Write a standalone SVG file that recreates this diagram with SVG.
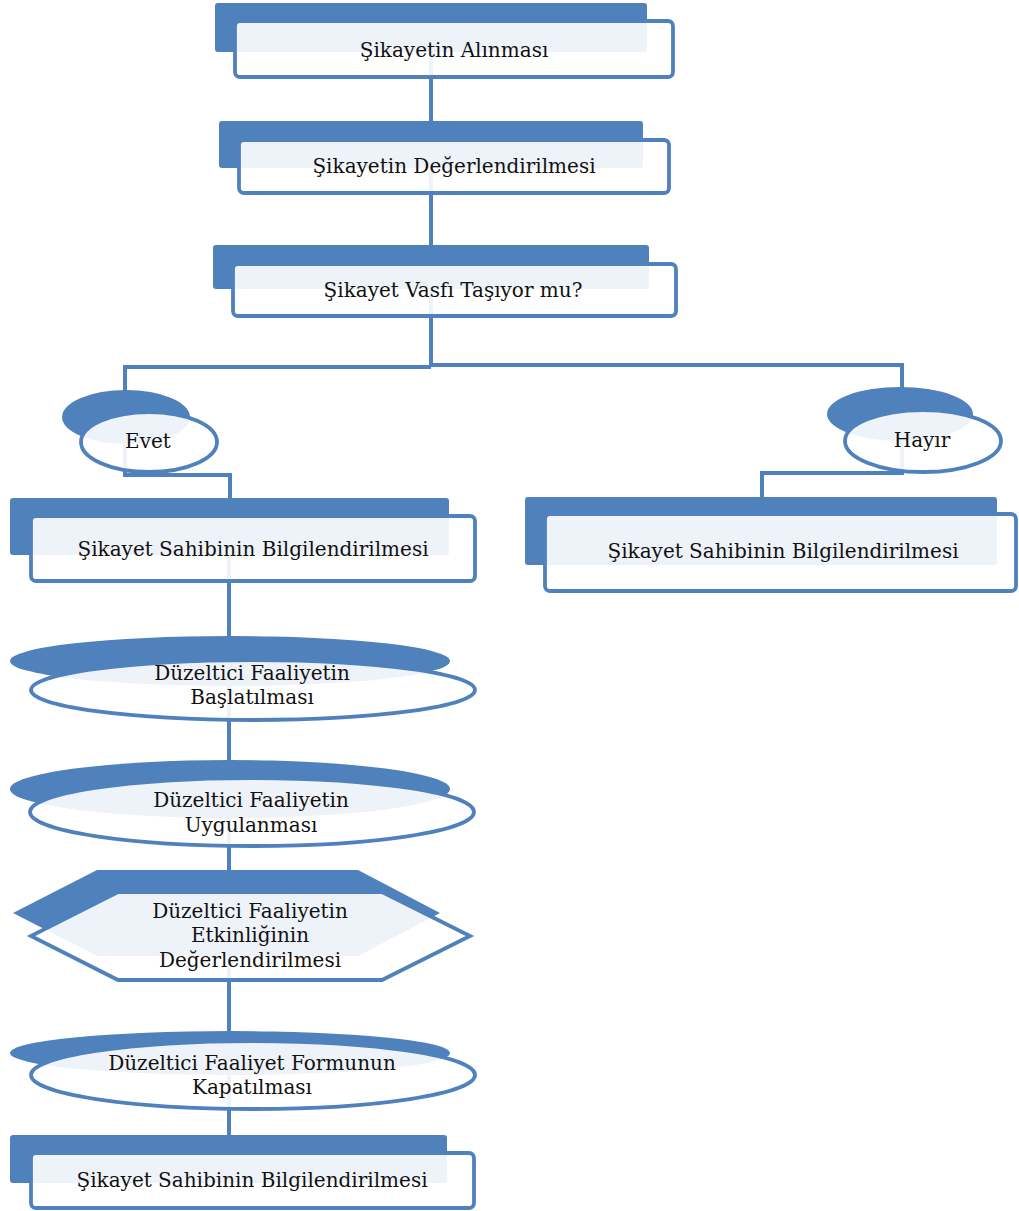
<svg xmlns="http://www.w3.org/2000/svg" width="1019" height="1211" viewBox="0 0 1019 1211">
<style>
.bk{fill:#4f81bd}
.fr{fill:#ffffff;fill-opacity:0.9;stroke:#4f81bd;stroke-width:3.8}
.cn{fill:none;stroke:#4f81bd;stroke-width:4}
text{font-family:"DejaVu Serif","Liberation Serif",serif;font-size:20px;fill:#111111;text-anchor:middle}
</style>
<rect width="1019" height="1211" fill="#ffffff"/>
<g id="connectors">
<path class="cn" d="M431,52 V367"/>
<path class="cn" d="M431,367 H125 V475 H230 V498"/>
<path class="cn" d="M431,365 H902 V473 H762 V497"/>
<path class="cn" d="M229,555 V1152"/>
</g>
<g id="n1">
<rect class="bk" x="215" y="3" width="432" height="49" rx="3"/>
<rect class="fr" x="235" y="21" width="438" height="56" rx="5"/>
<text x="454" y="57">Şikayetin Alınması</text>
</g>
<g id="n2">
<rect class="bk" x="219" y="121" width="424" height="47" rx="3"/>
<rect class="fr" x="239" y="140" width="430" height="53" rx="5"/>
<text x="454" y="173">Şikayetin Değerlendirilmesi</text>
</g>
<g id="n3">
<rect class="bk" x="213" y="245" width="436" height="44" rx="3"/>
<rect class="fr" x="233" y="264" width="443" height="52" rx="5"/>
<text x="453" y="297">Şikayet Vasfı Taşıyor mu?</text>
</g>
<g id="evet">
<ellipse class="bk" cx="126" cy="417" rx="64" ry="27"/>
<ellipse class="fr" cx="149" cy="442" rx="68" ry="30"/>
<text x="148" y="448">Evet</text>
</g>
<g id="hayir">
<ellipse class="bk" cx="900" cy="414" rx="73" ry="27"/>
<ellipse class="fr" cx="923" cy="441" rx="78" ry="31"/>
<text x="922" y="447">Hayır</text>
</g>
<g id="ssb-left">
<rect class="bk" x="10" y="498" width="439" height="57" rx="3"/>
<rect class="fr" x="31" y="516" width="444" height="65" rx="5"/>
<text x="253" y="556">Şikayet Sahibinin Bilgilendirilmesi</text>
</g>
<g id="ssb-right">
<rect class="bk" x="525" y="497" width="472" height="68" rx="3"/>
<rect class="fr" x="545" y="514" width="471" height="77" rx="5"/>
<text x="783" y="558">Şikayet Sahibinin Bilgilendirilmesi</text>
</g>
<g id="df-baslat">
<ellipse class="bk" cx="230" cy="661" rx="220" ry="25"/>
<ellipse class="fr" cx="253" cy="690" rx="222" ry="30"/>
<text x="252" y="680">Düzeltici Faaliyetin</text>
<text x="252" y="704">Başlatılması</text>
</g>
<g id="df-uygula">
<ellipse class="bk" cx="230" cy="789" rx="220" ry="29"/>
<ellipse class="fr" cx="252" cy="812" rx="222" ry="34"/>
<text x="251" y="807">Düzeltici Faaliyetin</text>
<text x="251" y="832">Uygulanması</text>
</g>
<g id="df-etkinlik">
<polygon class="bk" points="97,870 358,870 440,913 358,956 97,956 13,913"/>
<polygon class="fr" points="118,892 382,892 470,936 382,980 118,980 31,936"/>
<text x="250" y="918">Düzeltici Faaliyetin</text>
<text x="250" y="942">Etkinliğinin</text>
<text x="250" y="967">Değerlendirilmesi</text>
</g>
<g id="df-kapat">
<ellipse class="bk" cx="230" cy="1053" rx="220" ry="22"/>
<ellipse class="fr" cx="253" cy="1075" rx="222" ry="34"/>
<text x="252" y="1070">Düzeltici Faaliyet Formunun</text>
<text x="252" y="1094">Kapatılması</text>
</g>
<g id="ssb-bottom">
<rect class="bk" x="10" y="1135" width="437" height="48" rx="3"/>
<rect class="fr" x="31" y="1153" width="443" height="55" rx="5"/>
<text x="252" y="1187">Şikayet Sahibinin Bilgilendirilmesi</text>
</g>
</svg>
